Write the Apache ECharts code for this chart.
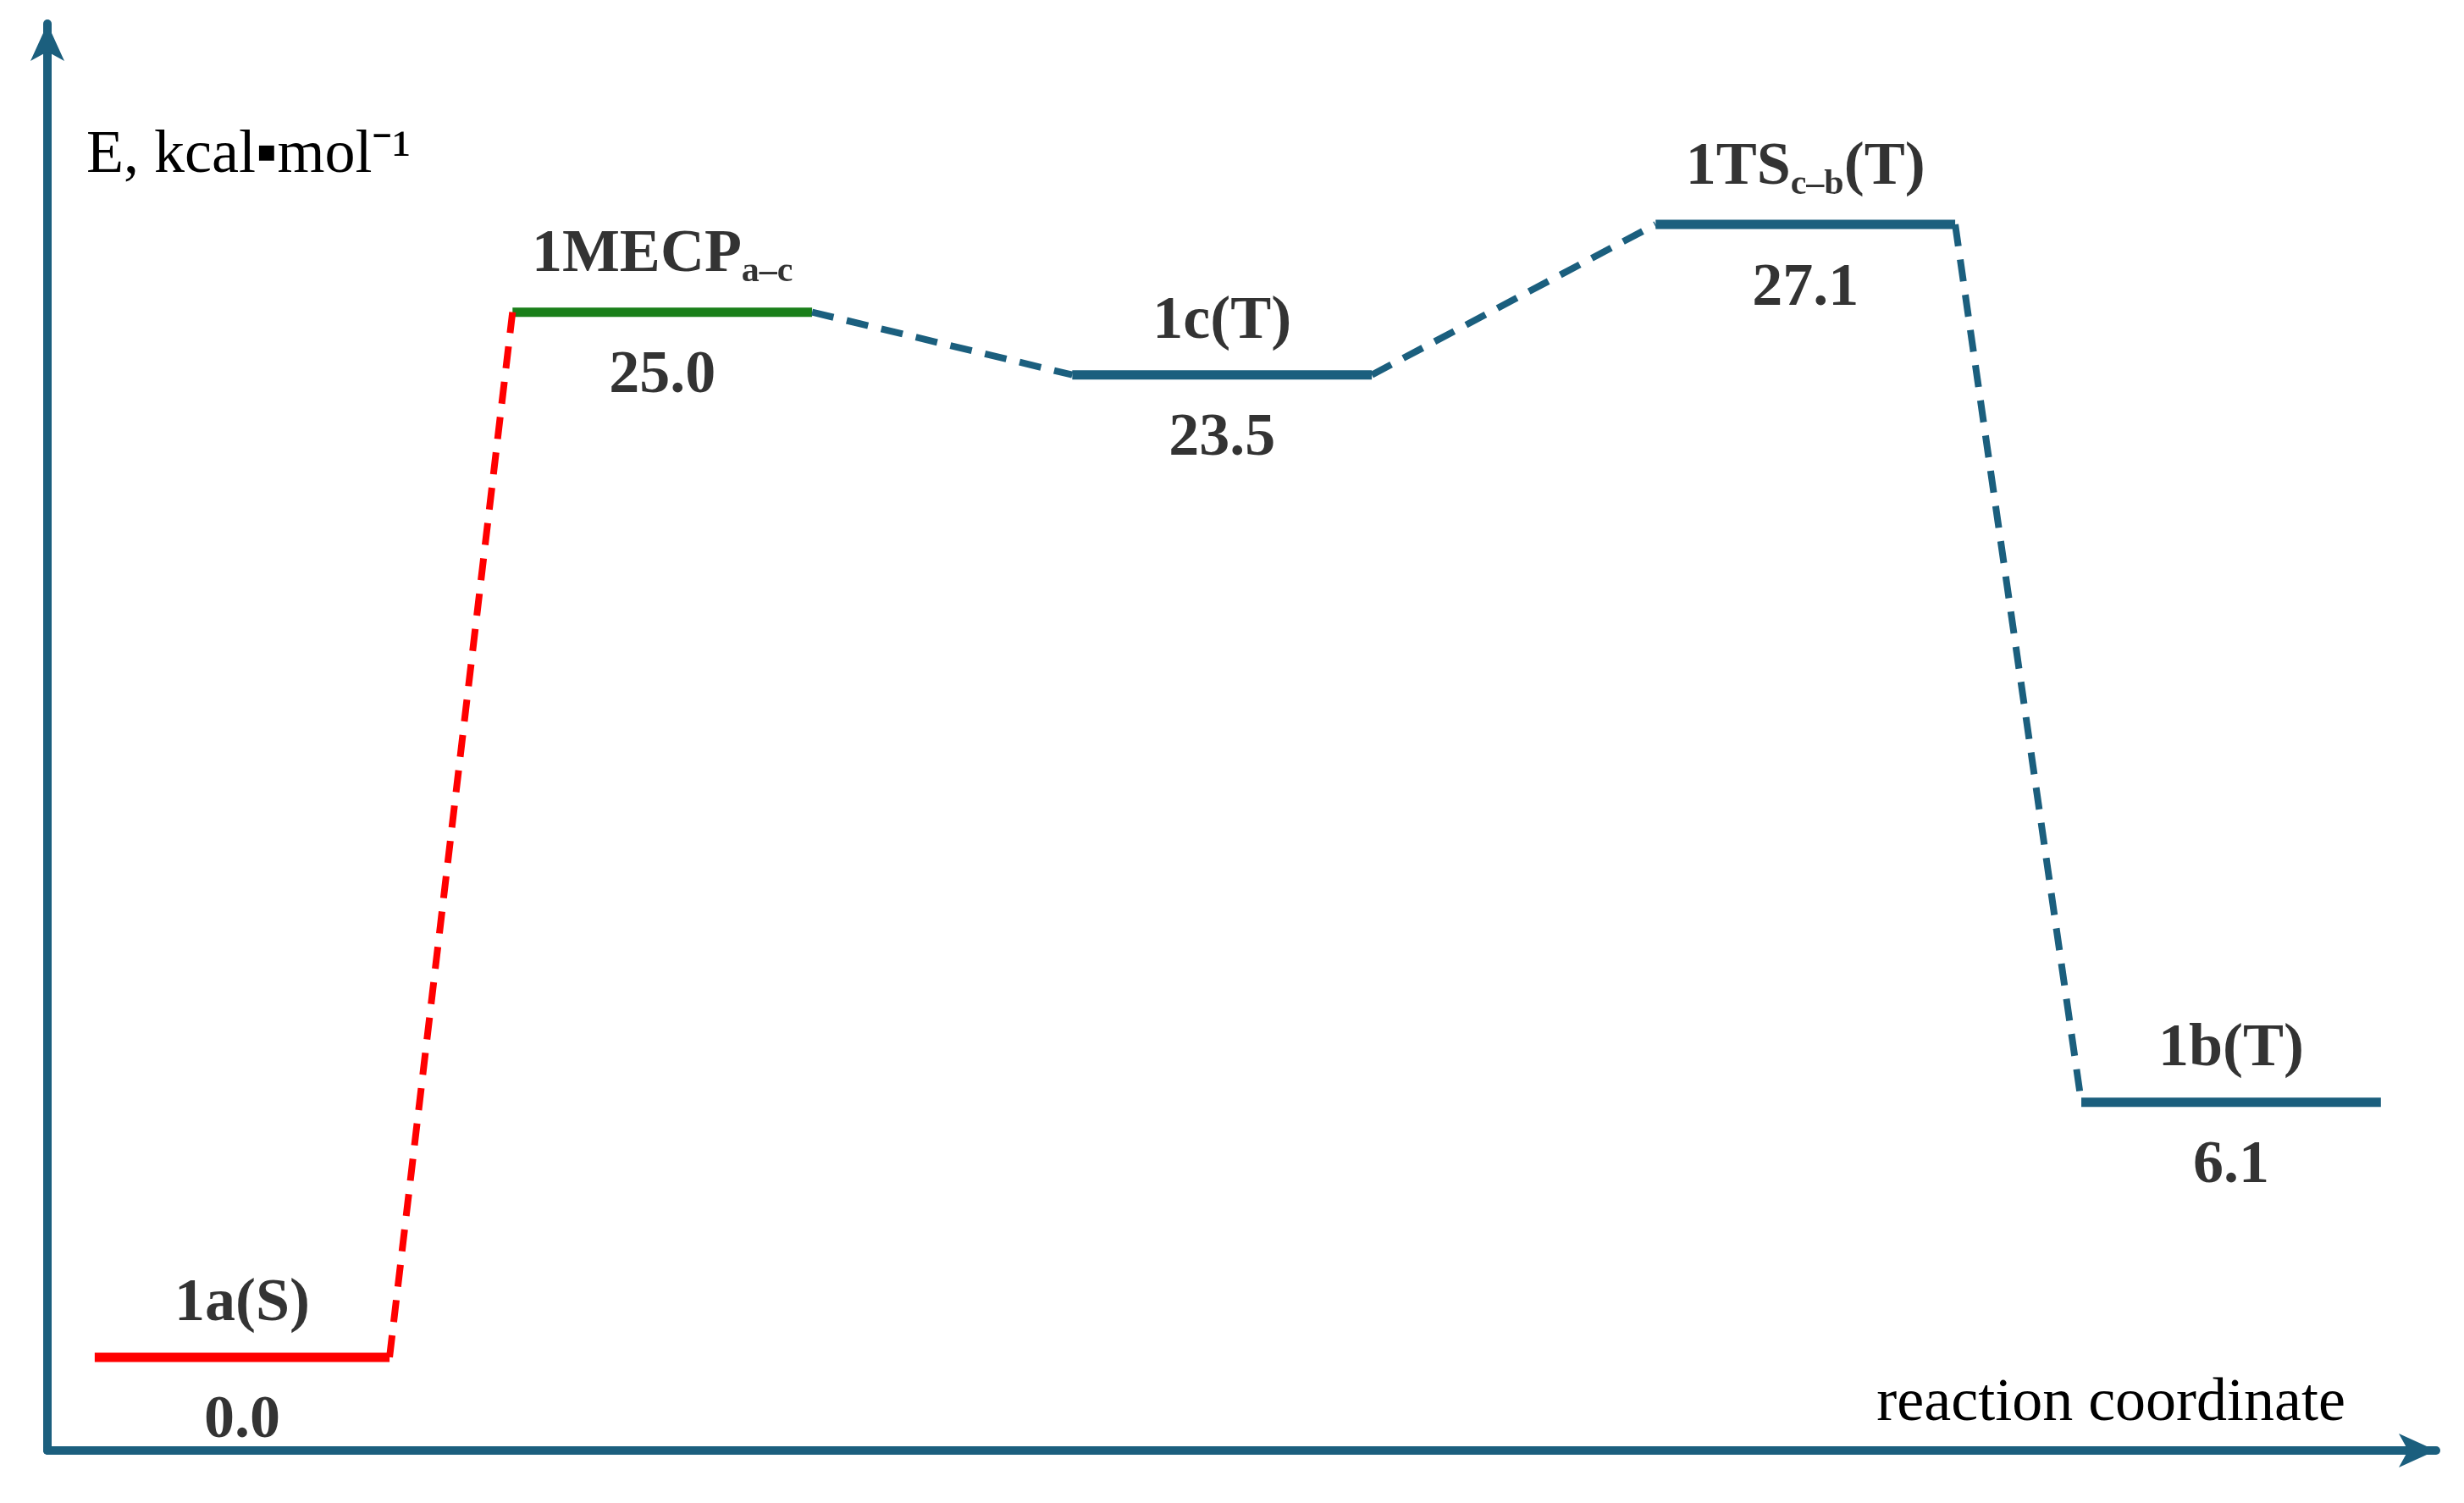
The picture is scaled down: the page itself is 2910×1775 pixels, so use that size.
<!DOCTYPE html>
<html><head><meta charset="utf-8">
<script src="https://cdn.jsdelivr.net/npm/echarts@6/dist/echarts.min.js"></script>
<style>html,body{margin:0;background:#fff}#chart{width:2910px;height:1775px}</style>
</head><body><div id="chart"></div>
<script>
// energy levels
var names = ['1a(S)', '1MECP', '1c(T)', '1TS', '1b(T)'];
var energies = [0.0, 25.0, 23.5, 27.1, 6.1];
var labels = ['0.0', '25.0', '23.5', '27.1', '6.1'];
// reaction coordinate extents of each level (arbitrary units)
var xStart = [60, 325, 680, 1050, 1320];
var xEnd = [247, 515, 870, 1240, 1510];
var levelColors = ['#ff0000', '#1a7f1a', '#1b5f7e', '#1b5f7e', '#1b5f7e'];
var linkColors = ['#ff0000', '#1b5f7e', '#1b5f7e', '#1b5f7e'];
var teal = '#1b5f7e';
var font = '"Liberation Serif", "Times New Roman", serif';

var series = [];
for (var i = 0; i < names.length; i++) {
    series.push({
        type: 'line', symbol: 'none', silent: true,
        lineStyle: { color: levelColors[i], width: 11 },
        data: [[xStart[i], energies[i]], [xEnd[i], energies[i]]]
    });
}
for (var i = 0; i < names.length - 1; i++) {
    series.push({
        type: 'line', symbol: 'none', silent: true,
        lineStyle: { color: linkColors[i], width: 8, type: [26, 16] },
        data: [[xEnd[i], energies[i]], [xStart[i + 1], energies[i + 1]]]
    });
}
var mids = [];
for (var i = 0; i < names.length; i++) {
    mids.push([(xStart[i] + xEnd[i]) / 2, energies[i], i]);
}
var rich = {
    n: { fontFamily: font, fontWeight: 'bold', fontSize: 72, color: '#000' },
    s: { fontFamily: font, fontWeight: 'bold', fontSize: 42, color: '#000', padding: [40, 0, 0, 0] }
};
series.push({
    type: 'scatter', symbolSize: 0, silent: true, data: mids,
    label: {
        show: true, position: 'top', distance: 26, rich: rich, color: '#000',
        formatter: function (p) {
            var k = p.data[2];
            if (k == 1) return '{n|1MECP}{s|a–c}';
            if (k == 3) return '{n|1TS}{s|c–b}{n|(T)}';
            return '{n|' + names[k] + '}';
        }
    }
});
series.push({
    type: 'scatter', symbolSize: 0, silent: true, data: mids,
    label: {
        show: true, position: 'bottom', distance: 40,
        fontFamily: font, fontWeight: 'bold', fontSize: 72, color: '#000',
        formatter: function (p) { return labels[p.data[2]]; }
    }
});

var chart = echarts.init(document.getElementById('chart'));
chart.setOption({
    animation: false,
    grid: { left: 56, right: 33, top: 28, bottom: 62 },
    xAxis: {
        type: 'value', min: 30, max: 1545,
        axisLine: { show: true, onZero: false, symbol: ['none', 'arrow'], symbolSize: [30, 44], lineStyle: { color: teal, width: 10 } },
        axisTick: { show: false }, axisLabel: { show: false }, splitLine: { show: false }
    },
    yAxis: {
        type: 'value', min: -2.23, max: 31.9,
        axisLine: { show: true, onZero: false, symbol: ['none', 'arrow'], symbolSize: [30, 44], lineStyle: { color: teal, width: 10 } },
        axisTick: { show: false }, axisLabel: { show: false }, splitLine: { show: false }
    },
    graphic: [
        { type: 'text', left: 102, top: 148, style: { text: 'E, kcal▪mol⁻¹', font: '72px ' + font, fill: '#000' } },
        { type: 'text', right: 140, top: 1622, style: { text: 'reaction coordinate', font: '72px ' + font, fill: '#000' } }
    ],
    series: series
});
</script></body></html>
